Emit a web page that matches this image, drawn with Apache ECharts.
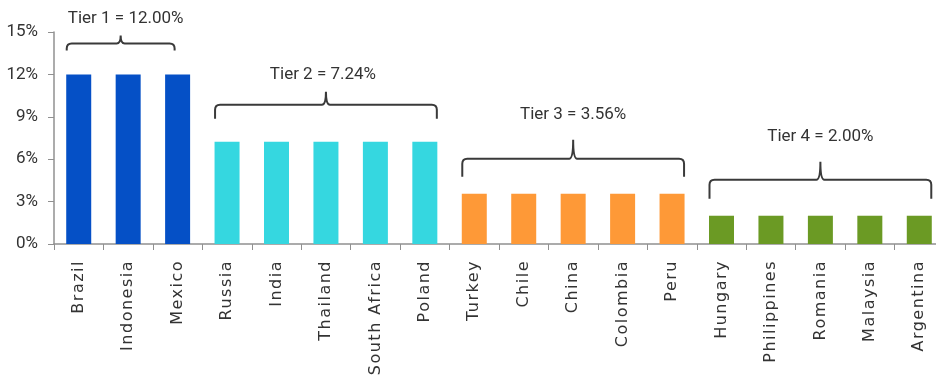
<!DOCTYPE html>
<html>
<head>
<meta charset="utf-8">
<script src="https://cdn.jsdelivr.net/npm/echarts@6/dist/echarts.min.js"></script>
<style>
  html, body { margin: 0; padding: 0; background: #fff; }
  #chart { width: 936px; height: 378px; }
</style>
</head>
<body>
<div id="chart"></div>
<script>
// Countries along the x axis, grouped into four rate tiers
const countries = ['Brazil', 'Indonesia', 'Mexico',
  'Russia', 'India', 'Thailand', 'South Africa', 'Poland',
  'Turkey', 'Chile', 'China', 'Colombia', 'Peru',
  'Hungary', 'Philippines', 'Romania', 'Malaysia', 'Argentina'];
const tierOf = [0, 0, 0, 1, 1, 1, 1, 1, 2, 2, 2, 2, 2, 3, 3, 3, 3, 3];
const tierRates = [12.00, 7.24, 3.56, 2.00];
const tierNames = ['Tier 1', 'Tier 2', 'Tier 3', 'Tier 4'];
const yTicks = [0, 3, 6, 9, 12, 15];

const tierColors = ['#0550C6', '#35D7E0', '#FE9937', '#6B9A24'];
const BAR_W = 25;
// brace geometry per tier (px): gap above bar tops, arm height, tip height,
// gap from tip to label centre, inset of the right end, label x shift
const braceLayout = [
  { gap: 24, arm: 7, tip: 8, text: 17, insetR: 15, dx: 5 },
  { gap: 23, arm: 14, tip: 13, text: 17, insetR: 0, dx: -3 },
  { gap: 17, arm: 18, tip: 19, text: 25, insetR: 0, dx: 0 },
  { gap: 17, arm: 19, tip: 18, text: 25, insetR: 0, dx: 0 }
];

// x-axis country names are drawn slightly letter-spaced, everything else not
const LABEL_FONT = 'DejaVu Sans';
const baseFillText = CanvasRenderingContext2D.prototype.fillText;
CanvasRenderingContext2D.prototype.fillText = function (t, x, y, w) {
  if (!('letterSpacing' in this)) {
    return w === undefined ? baseFillText.call(this, t, x, y) : baseFillText.call(this, t, x, y, w);
  }
  const prev = this.letterSpacing;
  this.letterSpacing = this.font.indexOf(LABEL_FONT) >= 0 ? '1.5px' : '0px';
  const r = w === undefined ? baseFillText.call(this, t, x, y) : baseFillText.call(this, t, x, y, w);
  this.letterSpacing = prev;
  return r;
};

const barData = countries.map((c, i) => ({
  value: tierRates[tierOf[i]],
  itemStyle: { color: tierColors[tierOf[i]] }
}));

// one brace per tier spanning its first..last category
const braceData = tierNames.map((name, t) => {
  const idx = tierOf.map((v, i) => v === t ? i : -1).filter(i => i >= 0);
  return [idx[0], idx[idx.length - 1], tierRates[t], t];
});

const chart = echarts.init(document.getElementById('chart'), null, { renderer: 'canvas' });

function renderBrace(params, api) {
  const i0 = api.value(0), i1 = api.value(1), v = api.value(2), t = api.value(3);
  const L = braceLayout[t];
  const pL = api.coord([i0, v]);
  const pR = api.coord([i1, v]);
  const x0 = pL[0] - BAR_W / 2 + 0.5;
  const x1 = pR[0] + BAR_W / 2 - 0.5 - L.insetR;
  const yEnd = pL[1] - L.gap;
  const yH = yEnd - L.arm;
  const yTip = yH - L.tip;
  const xm = (x0 + x1) / 2;
  const r = Math.min(5, L.arm - 1);
  const path =
    'M' + x0 + ',' + yEnd +
    ' L' + x0 + ',' + (yH + r) +
    ' Q' + x0 + ',' + yH + ' ' + (x0 + r) + ',' + yH +
    ' L' + (xm - 4) + ',' + yH +
    ' Q' + xm + ',' + yH + ' ' + xm + ',' + yTip +
    ' Q' + xm + ',' + yH + ' ' + (xm + 4) + ',' + yH +
    ' L' + (x1 - r) + ',' + yH +
    ' Q' + x1 + ',' + yH + ' ' + x1 + ',' + (yH + r) +
    ' L' + x1 + ',' + yEnd;
  return {
    type: 'group',
    children: [
      {
        type: 'path',
        shape: { pathData: path },
        style: { fill: null, stroke: '#3a3a3a', lineWidth: 2 }
      },
      {
        type: 'text',
        style: {
          x: xm + L.dx, y: yTip - L.text,
          text: tierNames[t] + ' = ' + tierRates[t].toFixed(2) + '%',
          fill: '#333',
          fontFamily: 'Roboto', fontSize: 17,
          align: 'center', verticalAlign: 'middle'
        }
      }
    ]
  };
}

chart.setOption({
  animation: false,
  grid: { left: 54, top: 32, width: 890, height: 212, outerBoundsMode: 'none' },
  xAxis: {
    type: 'category',
    data: countries,
    axisLine: { lineStyle: { color: '#909090', width: 1.5 } },
    axisTick: { show: true, length: 6, lineStyle: { color: '#909090' } },
    axisLabel: {
      rotate: 90, margin: 16, color: '#333',
      fontFamily: LABEL_FONT, fontSize: 16
    }
  },
  yAxis: {
    type: 'value',
    min: 0, max: 15, interval: 3,
    splitLine: { show: false },
    axisLine: { show: true, lineStyle: { color: '#909090', width: 1.5 } },
    axisTick: { show: true, length: 6, lineStyle: { color: '#909090' } },
    axisLabel: {
      color: '#333', fontFamily: 'Roboto', fontSize: 17, margin: 16,
      formatter: v => yTicks.includes(v) ? v + '%' : ''
    }
  },
  series: [
    {
      type: 'bar',
      data: barData,
      barWidth: BAR_W
    },
    {
      type: 'custom',
      renderItem: renderBrace,
      data: braceData,
      encode: { x: [0, 1], y: 2 },
      clip: false,
      z: 5
    }
  ]
});
</script>
</body>
</html>
